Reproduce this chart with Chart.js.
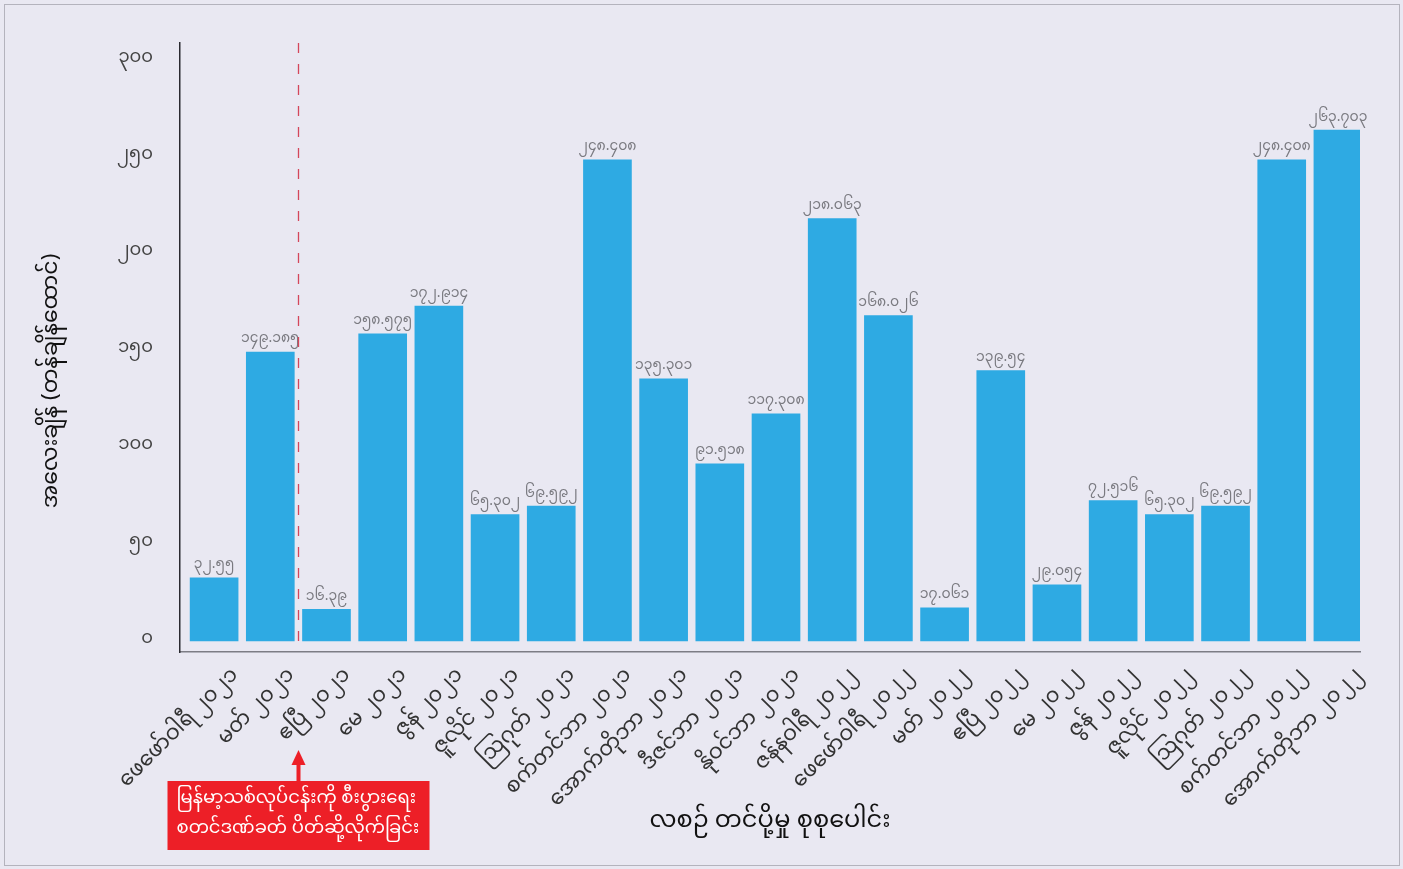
<!DOCTYPE html>
<html>
<head>
<meta charset="utf-8">
<script src="https://cdn.jsdelivr.net/npm/chart.js@4.4.1/dist/chart.umd.min.js"></script>
<style>
  html, body { margin: 0; padding: 0; background: #e9e8f2; }
  #wrap { width: 1403px; height: 869px; }
</style>
</head>
<body>
<div id="wrap"><canvas id="chart"></canvas></div>
<script>
const FONT = "'Noto Sans Myanmar', 'Padauk', 'Myanmar Text', 'Noto Sans', sans-serif";

const months = [
  "ဖေဖော်ဝါရီ ၂၀၂၁", "မတ် ၂၀၂၁", "ဧပြီ ၂၀၂၁", "မေ ၂၀၂၁", "ဇွန် ၂၀၂၁",
  "ဇူလိုင် ၂၀၂၁", "ဩဂုတ် ၂၀၂၁", "စက်တင်ဘာ ၂၀၂၁", "အောက်တိုဘာ ၂၀၂၁",
  "ဒီဇင်ဘာ ၂၀၂၁", "နိုဝင်ဘာ ၂၀၂၁", "ဇန်နဝါရီ ၂၀၂၂", "ဖေဖော်ဝါရီ ၂၀၂၂",
  "မတ် ၂၀၂၂", "ဧပြီ ၂၀၂၂", "မေ ၂၀၂၂", "ဇွန် ၂၀၂၂", "ဇူလိုင် ၂၀၂၂",
  "ဩဂုတ် ၂၀၂၂", "စက်တင်ဘာ ၂၀၂၂", "အောက်တိုဘာ ၂၀၂၂"
];
const exportTotals = [
  32.55, 149.185, 16.39, 158.575, 172.914, 65.302, 69.592, 248.408, 135.301,
  91.518, 117.308, 218.063, 168.026, 17.061, 139.54, 29.054, 72.516, 65.302,
  69.592, 248.408, 263.703
];
const yTicks = [0, 50, 100, 150, 200, 250, 300];
const yTitle = "အလေးချိန် (တန်ချိန်ထောင်)";
const xTitle = "လစဉ် တင်ပို့မှု စုစုပေါင်း";
const sanctionNote = ["မြန်မာ့သစ်လုပ်ငန်းကို စီးပွားရေး", "စတင်ဒဏ်ခတ် ပိတ်ဆို့လိုက်ခြင်း"];
const sanctionAt = 1.5; // between March and April 2021

const myDigits = (s) => s.replace(/[0-9]/g, (d) => String.fromCharCode(0x1040 + Number(d)));

const frame = {
  id: "frame",
  beforeDraw(chart) {
    const { ctx, width, height } = chart;
    ctx.save();
    ctx.fillStyle = "#e9e8f2";
    ctx.fillRect(0, 0, width, height);
    ctx.strokeStyle = "#b4b3bd";
    ctx.lineWidth = 1;
    ctx.strokeRect(4.5, 4.5, width - 8, height - 8);
    ctx.restore();
  },
};

const extras = {
  id: "extras",
  afterDatasetsDraw(chart) {
    const { ctx, chartArea, scales } = chart;
    const meta = chart.getDatasetMeta(0);
    ctx.save();
    // value labels
    ctx.font = "14px " + FONT;
    ctx.fillStyle = "#7a7a80";
    ctx.textAlign = "center";
    ctx.textBaseline = "bottom";
    meta.data.forEach((bar, i) => {
      ctx.fillText(myDigits(String(exportTotals[i])), bar.x, bar.y - 4);
    });

    // y axis title, a bit below the middle as in the original
    ctx.save();
    ctx.translate(55, 381);
    ctx.rotate(-Math.PI / 2);
    ctx.font = "22px " + FONT;
    ctx.fillStyle = "#111111";
    ctx.textAlign = "center";
    ctx.textBaseline = "middle";
    ctx.fillText(yTitle, 0, 0);
    ctx.restore();

    // sanction marker
    const x = Math.round(scales.x.getPixelForValue(sanctionAt)) + 0.5;
    ctx.strokeStyle = "#d4465a";
    ctx.lineWidth = 1.3;
    ctx.setLineDash([10, 11]);
    ctx.beginPath();
    ctx.moveTo(x, chartArea.top);
    ctx.lineTo(x, scales.y.getPixelForValue(0));
    ctx.stroke();
    ctx.setLineDash([]);

    // arrow + box below the axis
    const boxTop = 781, boxW = 262, boxH = 69;
    ctx.fillStyle = "#ed1f27";
    ctx.fillRect(x - 2, 762, 4, boxTop - 762);
    ctx.beginPath();
    ctx.moveTo(x, 750);
    ctx.lineTo(x - 7, 765);
    ctx.lineTo(x + 7, 765);
    ctx.closePath();
    ctx.fill();
    ctx.fillRect(x - boxW / 2, boxTop, boxW, boxH);
    ctx.fillStyle = "#ffffff";
    ctx.font = "18px " + FONT;
    ctx.textAlign = "left";
    ctx.textBaseline = "middle";
    ctx.fillText(sanctionNote[0], x - boxW / 2 + 9, boxTop + 20);
    ctx.fillText(sanctionNote[1], x - boxW / 2 + 9, boxTop + 50);
    ctx.restore();
  },
};

new Chart(document.getElementById("chart"), {
  type: "bar",
  data: {
    datasets: [
      {
        data: exportTotals.map((v, i) => ({ x: i, y: v })),
        backgroundColor: "#2eaae3",
        barThickness: 48,
      },
    ],
  },
  options: {
    responsive: true,
    maintainAspectRatio: false,
    animation: false,
    layout: { padding: { top: 43, right: 43, left: 0, bottom: 0 } },
    plugins: { legend: { display: false }, tooltip: { enabled: false } },
    scales: {
      x: {
        type: "linear",
        offset: false,
        min: -0.607,
        max: 20.393,
        afterBuildTicks: (s) => { s.ticks = months.map((_, i) => ({ value: i })); },
        afterFit: (s) => { s.height = 217; },
        grid: { display: false, drawTicks: false },
        border: { color: "#7d7d85", width: 1.5 },
        ticks: {
          autoSkip: false,
          minRotation: 45,
          maxRotation: 45,
          labelOffset: 23,
          padding: 13,
          color: "#333333",
          font: { family: FONT, size: 21 },
          callback: (v) => months[v],
        },
        title: {
          display: true,
          text: xTitle,
          color: "#111111",
          font: { family: FONT, size: 24 },
          padding: { top: 0, bottom: 30 },
        },
      },
      y: {
        min: -5.68,
        max: 308.7,
        afterBuildTicks: (s) => { s.ticks = yTicks.map((v) => ({ value: v })); },
        afterFit: (s) => { s.width = 180; },
        grid: { display: false, drawTicks: false },
        border: { color: "#2a2a30", width: 1.5 },
        ticks: {
          padding: 27,
          color: "#444444",
          font: { family: FONT, size: 18 },
          callback: (v) => myDigits(String(v)),
        },
      },
    },
  },
  plugins: [frame, extras],
});
</script>
</body>
</html>
